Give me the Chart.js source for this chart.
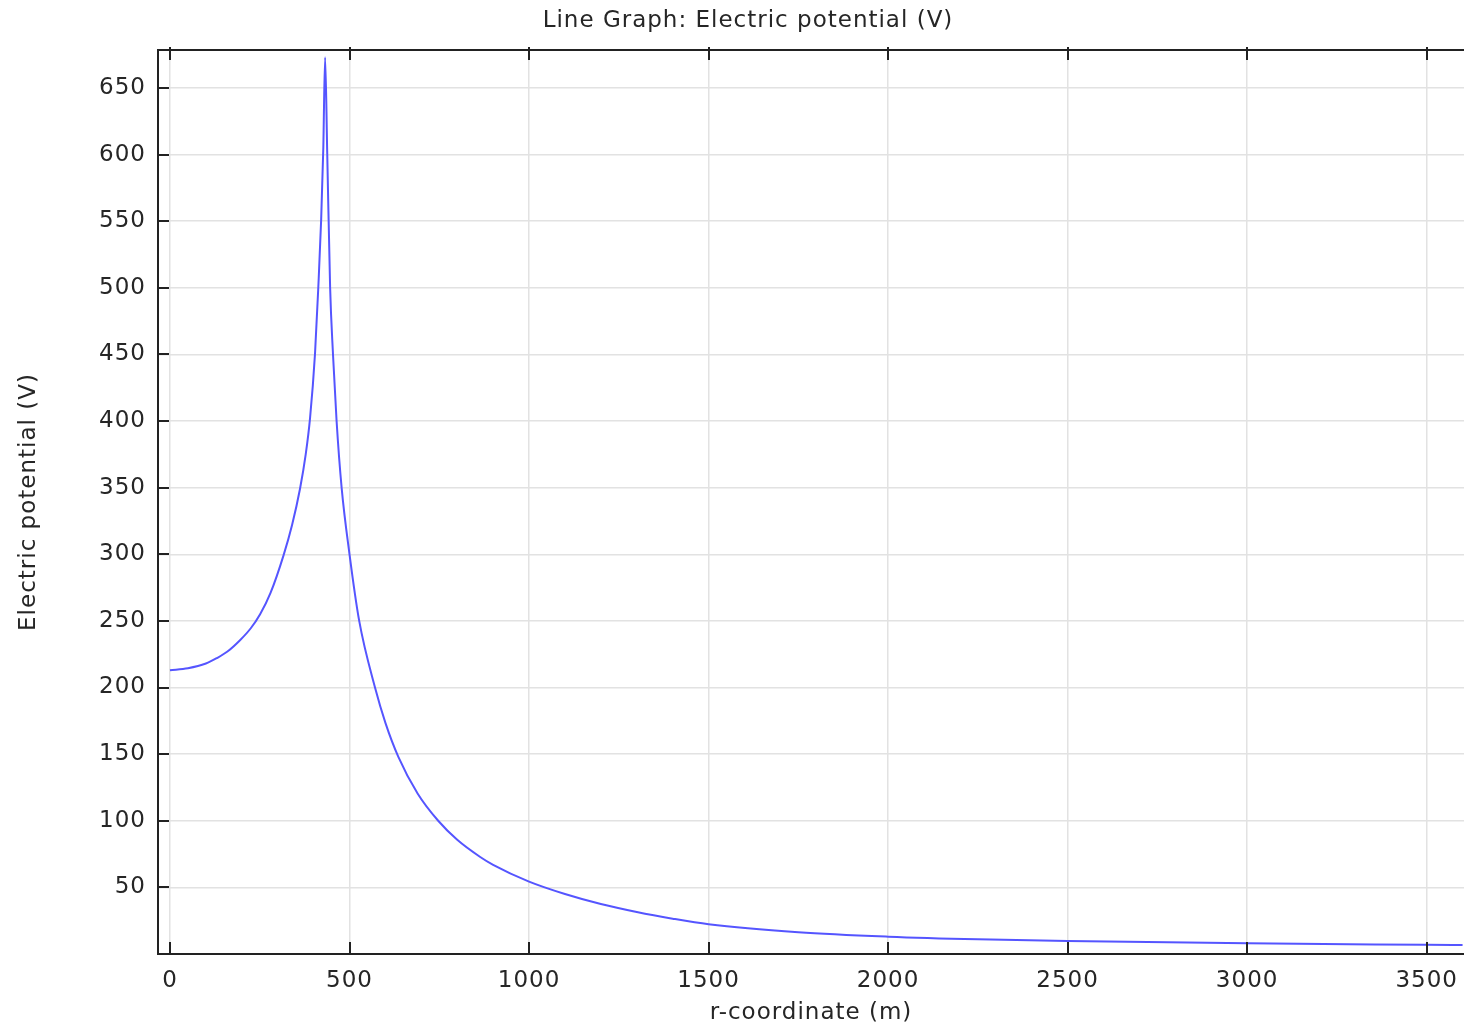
<!DOCTYPE html>
<html>
<head>
<meta charset="utf-8">
<script src="https://cdn.jsdelivr.net/npm/chart.js@4.4.1/dist/chart.umd.min.js"></script>
<style>
  html, body { margin: 0; padding: 0; background: #ffffff; }
  #wrap { width: 1464px; height: 1027px; position: relative; }
</style>
</head>
<body>
<div id="wrap"><canvas id="c" width="1464" height="1027"></canvas></div>
<script>
// r-coordinate (m)
const rValues = [0, 50, 100, 130, 160, 195, 225, 251, 280, 316, 340, 362, 378, 390, 404, 413, 421, 427, 432,
                 438, 446, 454, 464, 478, 500, 527, 571, 600, 636, 690, 747, 800, 864, 900,
                 1000, 1100, 1200, 1300, 1400, 1500, 1750, 2000, 2250, 2500, 3000, 3500, 3600];
// Electric potential (V)
const potential = [213, 214.5, 218, 222, 227, 235.5, 244.5, 255, 271, 299, 322, 349, 375, 402, 451, 500, 551, 605, 673,
                   600, 500, 450, 400, 350, 300, 250, 200, 173.5, 148, 120.3, 100, 85.7, 72.8, 66.9,
                   54.3, 45, 37.5, 31.5, 26.5, 22.3, 16.3, 13, 11, 9.8, 8, 6.9, 6.7];
const xTickValues = [0, 500, 1000, 1500, 2000, 2500, 3000, 3500];
const yTickValues = [50, 100, 150, 200, 250, 300, 350, 400, 450, 500, 550, 600, 650];
const chartTitle = 'Line Graph: Electric potential (V)';
const xTitle = 'r-coordinate (m)';
const yTitle = 'Electric potential (V)';

const FONT = 'DejaVu Sans';
const FSIZE = 23;
const TXT = '#262626';

const points = rValues.map((r, i) => ({ x: r, y: potential[i] }));

const spacing = {
  id: 'spacing',
  beforeDraw(chart) { chart.ctx.letterSpacing = '1px'; }
};

const innerTicks = {
  id: 'innerTicks',
  afterDraw(chart) {
    const { ctx, chartArea: a, scales } = chart;
    ctx.save();
    ctx.strokeStyle = '#222';
    ctx.lineWidth = 2;
    ctx.beginPath();
    ctx.moveTo(a.left, a.top);
    ctx.lineTo(a.right, a.top);
    ctx.stroke();
    ctx.beginPath();
    xTickValues.forEach(v => {
      const px = Math.round(scales.x.getPixelForValue(v));
      ctx.moveTo(px, a.bottom);
      ctx.lineTo(px, a.bottom - 12);
      ctx.moveTo(px, a.top - 3);
      ctx.lineTo(px, a.top + 10);
    });
    yTickValues.forEach(v => {
      const py = Math.round(scales.y.getPixelForValue(v));
      ctx.moveTo(a.left, py);
      ctx.lineTo(a.left + 11, py);
    });
    ctx.stroke();
    ctx.fillStyle = TXT;
    ctx.font = FSIZE + 'px "' + FONT + '"';
    ctx.textAlign = 'center';
    ctx.textBaseline = 'middle';
    ctx.fillText(chartTitle, 748, 21);
    ctx.restore();
  }
};

new Chart(document.getElementById('c'), {
  type: 'line',
  data: {
    datasets: [{
      data: points,
      borderColor: '#5555ff',
      borderWidth: 2,
      pointRadius: 0,
      fill: false,
      cubicInterpolationMode: 'monotone'
    }]
  },
  options: {
    responsive: false,
    animation: false,
    events: [],
    layout: { padding: { top: 50, left: 0, right: 0, bottom: 0 } },
    plugins: { legend: { display: false }, tooltip: { enabled: false }, title: { display: false } },
    scales: {
      x: {
        type: 'linear',
        min: -33.4,
        max: 3604,
        afterFit(s) { s.height = 73; s.paddingLeft = 0; s.paddingRight = 0; },
        afterBuildTicks(s) { s.ticks = xTickValues.map(v => ({ value: v })); },
        border: { display: true, color: '#222', width: 2 },
        grid: { color: '#e2e2e2', lineWidth: 1.5, drawTicks: false },
        ticks: { color: TXT, font: { family: FONT, size: FSIZE }, padding: 13, maxRotation: 0,
                 callback: v => String(v) },
        title: { display: true, text: xTitle, color: TXT, font: { family: FONT, size: FSIZE }, padding: { top: 0, bottom: 0 } }
      },
      y: {
        type: 'linear',
        min: 0,
        max: 678.5,
        afterFit(s) { s.width = 158; s.paddingTop = 0; s.paddingBottom = 0; },
        afterBuildTicks(s) { s.ticks = yTickValues.map(v => ({ value: v })); },
        border: { display: true, color: '#222', width: 2 },
        grid: { color: '#e2e2e2', lineWidth: 1.5, drawTicks: false },
        ticks: { color: TXT, font: { family: FONT, size: FSIZE }, padding: 12,
                 callback: v => String(v) },
        title: { display: true, text: yTitle, color: TXT, font: { family: FONT, size: FSIZE }, padding: { top: 15, bottom: 0 } }
      }
    }
  },
  plugins: [spacing, innerTicks]
});
</script>
</body>
</html>
